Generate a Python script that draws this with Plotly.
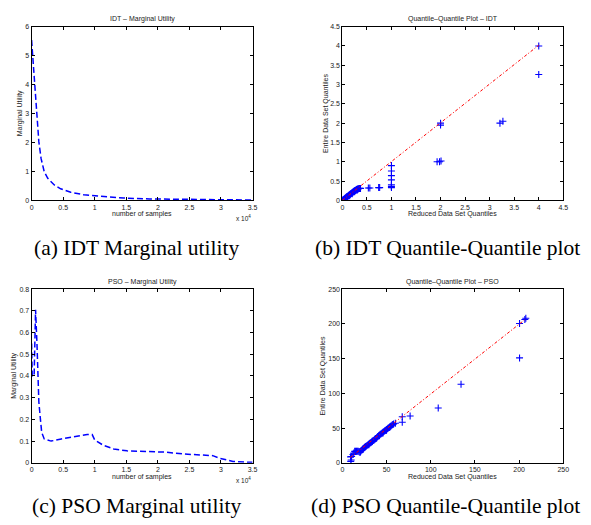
import plotly.graph_objects as go

W, H = 591, 525

# ---------------- data ----------------
# (a) IDT marginal utility: number of samples vs marginal utility
idt_mu_x = [0, 200, 470, 830, 1150, 1500, 2000, 2560, 3600, 4600, 6200, 8300, 10900, 14600, 18700, 26600, 35000]
idt_mu_y = [5.54, 4.98, 4.07, 3.05, 2.02, 1.45, 0.99, 0.76, 0.53, 0.40, 0.28, 0.19, 0.14, 0.08, 0.05, 0.03, 0.01]

# (c) PSO marginal utility
pso_mu_x = [0, 100, 400, 630, 850, 1000, 1150, 1400, 1600, 2000, 3100, 4700, 6800, 8800, 9600, 10000, 11400, 13000,
            15100, 18700, 21300, 23900, 27600, 28700, 29800, 31900, 34000, 35000]
pso_mu_y = [0.55, 0.40, 0.40, 0.705, 0.55, 0.40, 0.28, 0.20, 0.14, 0.11, 0.10, 0.11, 0.12, 0.13, 0.13, 0.105, 0.08, 0.064,
            0.055, 0.052, 0.049, 0.041, 0.036, 0.033, 0.021, 0.006, 0.003, 0.002]

# (b) IDT Q-Q plot
idt_qq_x = [0.00, 0.01, 0.02, 0.03, 0.04, 0.05, 0.06, 0.07, 0.08, 0.09, 0.10, 0.11, 0.12, 0.13, 0.14, 0.15, 0.16,
            0.17, 0.18, 0.19, 0.20, 0.21, 0.22, 0.23, 0.24, 0.25, 0.26, 0.27, 0.28, 0.29, 0.30, 0.31, 0.32, 0.33,
            0.35, 0.37, 0.05, 0.10, 0.15, 0.20, 0.25, 0.30, 0.53, 0.56, 0.74, 0.76,
            1.0, 1.0, 1.0, 1.0, 1.0, 1.0, 1.0, 1.93, 1.98, 2.01, 2.0, 2.0, 3.21, 3.27, 4.0, 4.0]
idt_qq_y = [0.00, 0.01, 0.02, 0.025, 0.04, 0.05, 0.06, 0.065, 0.08, 0.09, 0.10, 0.105, 0.12, 0.13, 0.135, 0.15, 0.16,
            0.17, 0.175, 0.19, 0.20, 0.21, 0.215, 0.23, 0.24, 0.25, 0.255, 0.26, 0.27, 0.28, 0.29, 0.29, 0.30, 0.30,
            0.31, 0.31, 0.03, 0.08, 0.12, 0.17, 0.22, 0.26, 0.32, 0.32, 0.33, 0.33,
            0.33, 0.36, 0.40, 0.53, 0.64, 0.76, 0.90, 1.0, 1.0, 1.02, 1.95, 2.0, 2.0, 2.05, 4.0, 3.26]
idt_ref_x = [0, 4.0]
idt_ref_y = [0, 4.02]

# (d) PSO Q-Q plot
pso_qq_x = [9.5, 10, 10.5, 9.3, 12, 13, 14, 15, 16, 17, 18, 19, 20, 21, 22, 20.4,
            23, 24, 25, 26, 27, 28, 29, 30, 31, 32, 33, 34, 35, 36, 37, 38, 39, 40, 41, 42, 43, 44, 45,
            46, 47, 48, 49, 50, 51, 52, 53, 54, 55, 56, 57, 58, 60,
            26, 30, 34, 38, 42, 46, 50, 54,
            67.8, 67.8, 76.7, 108.5, 134.3, 200.5, 200.5, 206.5, 207.6]
pso_qq_y = [2, 4, 9, 8.5, 12, 14, 16.5, 16.5, 16.5, 16.5, 16.5, 16, 15, 17, 18, 16,
            20, 21, 22, 23, 24, 25, 26, 27, 28, 29, 30, 31, 32, 33, 34, 35, 36, 38, 39, 40, 41, 42, 43,
            44, 45, 46, 47, 48, 49, 50, 51, 52, 53, 54, 55, 56, 57,
            23, 26, 31, 35, 39, 43, 47, 52,
            66.4, 58.3, 67.3, 79, 113, 200.6, 151, 206.3, 208.2]
pso_ref_x = [9, 208]
pso_ref_y = [7.6, 207.6]

# tick labels
mu_x_ticks = [0, 5000, 10000, 15000, 20000, 25000, 30000, 35000]
mu_x_text = ["0", "0.5", "1", "1.5", "2", "2.5", "3", "3.5"]
idt_mu_y_ticks = [0, 1, 2, 3, 4, 5, 6]
pso_mu_y_ticks = [0, 0.1, 0.2, 0.3, 0.4, 0.5, 0.6, 0.7, 0.8]
pso_mu_y_text = ["0", "0.1", "0.2", "0.3", "0.4", "0.5", "0.6", "0.7", "0.8"]
idt_qq_ticks = [0, 0.5, 1, 1.5, 2, 2.5, 3, 3.5, 4, 4.5]
idt_qq_text = ["0", "0.5", "1", "1.5", "2", "2.5", "3", "3.5", "4", "4.5"]
pso_qq_ticks = [0, 50, 100, 150, 200, 250]

titles = ["IDT – Marginal Utility", "Quantile–Quantile Plot – IDT",
          "PSO – Marginal Utility", "Quantile–Quantile Plot – PSO"]
captions = ["(a) IDT Marginal utility", "(b) IDT Quantile-Quantile plot",
            "(c) PSO Marginal utility", "(d) PSO Quantile-Quantile plot"]

# ---------------- layout helpers ----------------
def px(x):
    return x / W

def py(y):
    return 1 - y / H

boxes = {  # left, right, top, bottom in pixels
    1: (30, 254, 23, 199),
    2: (345, 569, 23, 199),
    3: (30, 254, 289, 465),
    4: (345, 569, 289, 465),
}

SANS = "Liberation Sans, Arial, sans-serif"
SERIF = "Liberation Serif, Times New Roman, serif"
TICKFONT = dict(family=SANS, size=7, color="#222")

fig = go.Figure()

blue = "#0000ff"
red = "#ff0000"
cross = dict(symbol="cross-thin", size=5, line=dict(width=1.1, color=blue))

fig.add_trace(go.Scatter(x=idt_mu_x, y=idt_mu_y, mode="lines",
                         line=dict(color=blue, width=1.5, dash="6px,3px"),
                         xaxis="x", yaxis="y"))
fig.add_trace(go.Scatter(x=idt_qq_x, y=idt_qq_y, mode="markers", marker=cross,
                         xaxis="x2", yaxis="y2"))
fig.add_trace(go.Scatter(x=idt_ref_x, y=idt_ref_y, mode="lines",
                         line=dict(color=red, width=1, dash="3px,2px,1px,2px"),
                         xaxis="x2", yaxis="y2"))
fig.add_trace(go.Scatter(x=pso_mu_x, y=pso_mu_y, mode="lines",
                         line=dict(color=blue, width=1.5, dash="6px,3px"),
                         xaxis="x3", yaxis="y3"))
fig.add_trace(go.Scatter(x=pso_qq_x, y=pso_qq_y, mode="markers", marker=cross,
                         xaxis="x4", yaxis="y4"))
fig.add_trace(go.Scatter(x=pso_ref_x, y=pso_ref_y, mode="lines",
                         line=dict(color=red, width=1, dash="3px,2px,1px,2px"),
                         xaxis="x4", yaxis="y4"))

common = dict(showline=True, linecolor="black", linewidth=1, mirror="ticks",
              ticks="inside", ticklen=3, tickwidth=1, tickcolor="black",
              showgrid=False, zeroline=False, tickfont=TICKFONT, fixedrange=True)

axis_specs = {
    1: (dict(range=[0, 35000], tickvals=mu_x_ticks, ticktext=mu_x_text),
        dict(range=[0, 6], tickvals=idt_mu_y_ticks)),
    2: (dict(range=[0, 4.5], tickvals=idt_qq_ticks, ticktext=idt_qq_text),
        dict(range=[0, 4.5], tickvals=idt_qq_ticks, ticktext=idt_qq_text)),
    3: (dict(range=[0, 35000], tickvals=mu_x_ticks, ticktext=mu_x_text),
        dict(range=[0, 0.8], tickvals=pso_mu_y_ticks, ticktext=pso_mu_y_text)),
    4: (dict(range=[0, 250], tickvals=pso_qq_ticks),
        dict(range=[0, 250], tickvals=pso_qq_ticks)),
}

layout = dict(width=W, height=H, margin=dict(l=0, r=0, t=0, b=0),
              paper_bgcolor="white", plot_bgcolor="white", showlegend=False,
              hovermode=False)
for i, (l, r, t, b) in boxes.items():
    xs, ys = axis_specs[i]
    suf = "" if i == 1 else str(i)
    xa = dict(common, domain=[px(l), px(r)], anchor="y" + suf, **xs)
    ya = dict(common, domain=[py(b), py(t)], anchor="x" + suf, **ys)
    layout["xaxis" + suf] = xa
    layout["yaxis" + suf] = ya

fig.update_layout(**layout)

ann = []
def text(x, y, s, size=7, family=SANS, angle=0, xanchor="center", color="#222"):
    ann.append(dict(x=px(x), y=py(y), xref="paper", yref="paper", text=s, showarrow=False,
                    font=dict(family=family, size=size, color=color), textangle=angle,
                    xanchor=xanchor, yanchor="middle"))

# titles
text(142, 15, titles[0])
text(457, 15, titles[1])
text(142, 282, titles[2])
text(457, 282, titles[3])
# x-axis titles
text(142, 213, "number of samples")
text(457, 213, "Reduced Data Set Quantiles")
text(142, 479, "number of samples")
text(457, 479, "Reduced Data Set Quantiles")
# y-axis titles
text(18, 111, "Marginal Utility", angle=-90)
text(328, 111, "Entire Data Set Quantiles", angle=-90)
text(12, 377, "Marginal Utility", angle=-90)
text(325, 377, "Entire Data Set Quantiles", angle=-90)
# exponent labels
text(245, 217, "x 10<sup>4</sup>", size=6.5)
text(245, 482, "x 10<sup>4</sup>", size=6.5)
# captions
text(136, 247, captions[0], size=21.5, family=SERIF, color="black")
text(452, 247, captions[1], size=21.5, family=SERIF, color="black")
text(136, 509, captions[2], size=21.5, family=SERIF, color="black")
text(450, 509, captions[3], size=21.5, family=SERIF, color="black")

fig.update_layout(annotations=ann)
fig.write_html("out.html", config={"displayModeBar": False, "staticPlot": True},
               post_script="document.body.style.margin='0';document.body.style.overflow='hidden';")
